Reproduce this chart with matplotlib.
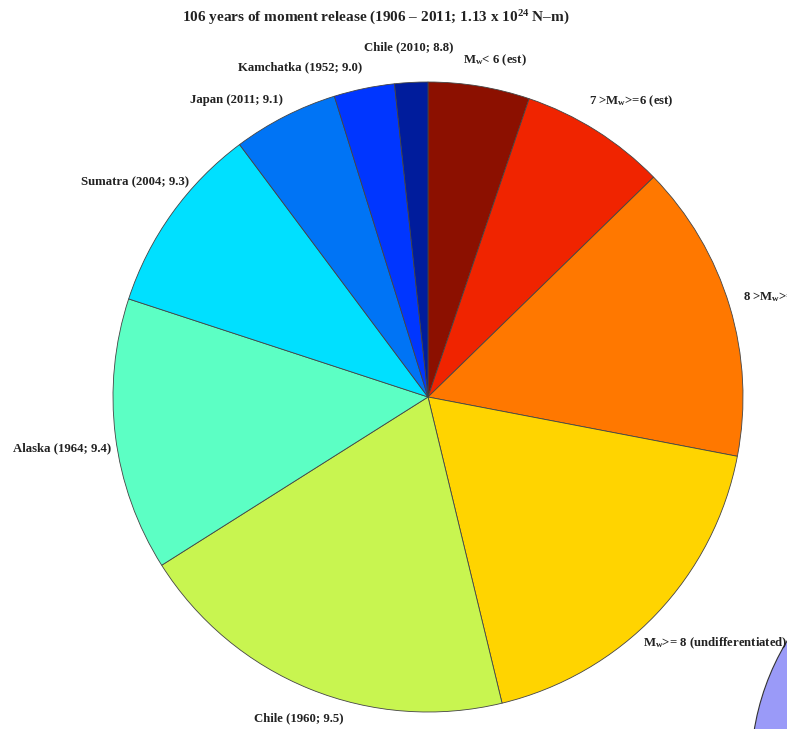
import matplotlib.pyplot as plt
from matplotlib.patches import Circle

plt.rcParams['font.family'] = ['Liberation Serif', 'DejaVu Serif']
plt.rcParams['font.weight'] = 'bold'
plt.rcParams['mathtext.fontset'] = 'custom'
plt.rcParams['mathtext.rm'] = 'Liberation Serif:bold'
plt.rcParams['mathtext.default'] = 'rm'

# Data (share of total moment, percent), clockwise from top
labels = ['M$_{w}$< 6 (est)', '7 >M$_{w}$>=6 (est)', '8 >M$_{w}$>=7',
          'M$_{w}$>= 8 (undifferentiated)', 'Chile (1960; 9.5)',
          'Alaska (1964; 9.4)', 'Sumatra (2004; 9.3)', 'Japan (2011; 9.1)',
          'Kamchatka (1952; 9.0)', 'Chile (2010; 8.8)']
shares = [5.2, 7.5, 15.3, 18.2, 19.8, 14.0, 9.75, 5.4, 3.1, 1.7]
colors = ['#8c1000', '#f02400', '#ff7800', '#ffd400', '#c8f550',
          '#5cffc4', '#00e0ff', '#0074f5', '#0036ff', '#001c9c']

# label positions (pixel coords of the picture) and alignment
label_pos = [(495, 60, 'center'), (589, 101, 'left'), (743, 297, 'left'),
             (643, 643, 'left'), (299, 718, 'center'), (62, 448, 'center'),
             (135, 182, 'center'), (236, 100, 'center'), (300, 67, 'center'),
             (409, 47, 'center')]

W, H = 787, 729
fig = plt.figure(figsize=(W / 100, H / 100), dpi=100)
ax = fig.add_axes([0, 0, 1, 1])

ax.pie(shares, colors=colors, startangle=90, counterclock=False,
       center=(428, H - 397), radius=315, frame=True,
       wedgeprops=dict(edgecolor='#444444', linewidth=0.6))
ax.set_xlim(0, W)
ax.set_ylim(0, H)
ax.set_aspect('equal')
ax.axis('off')

for lab, (x, y, ha) in zip(labels, label_pos):
    ax.text(x, H - y, lab, ha=ha, va='center', fontsize=9.2, fontweight='bold',
            color='#222222')

ax.text(376, H - 18, '106 years of moment release (1906 \u2013 2011; 1.13 x 10$^{24}$ N\u2013m)',
        ha='center', va='center', fontsize=11, fontweight='bold', color='#222222')

# piece of a neighbouring graphic in the corner
ax.add_patch(Circle((1000, -41), 249, facecolor='#9a9af8', edgecolor='#333333',
                    linewidth=0.8, clip_on=True))

fig.savefig('out.png', dpi=100)
